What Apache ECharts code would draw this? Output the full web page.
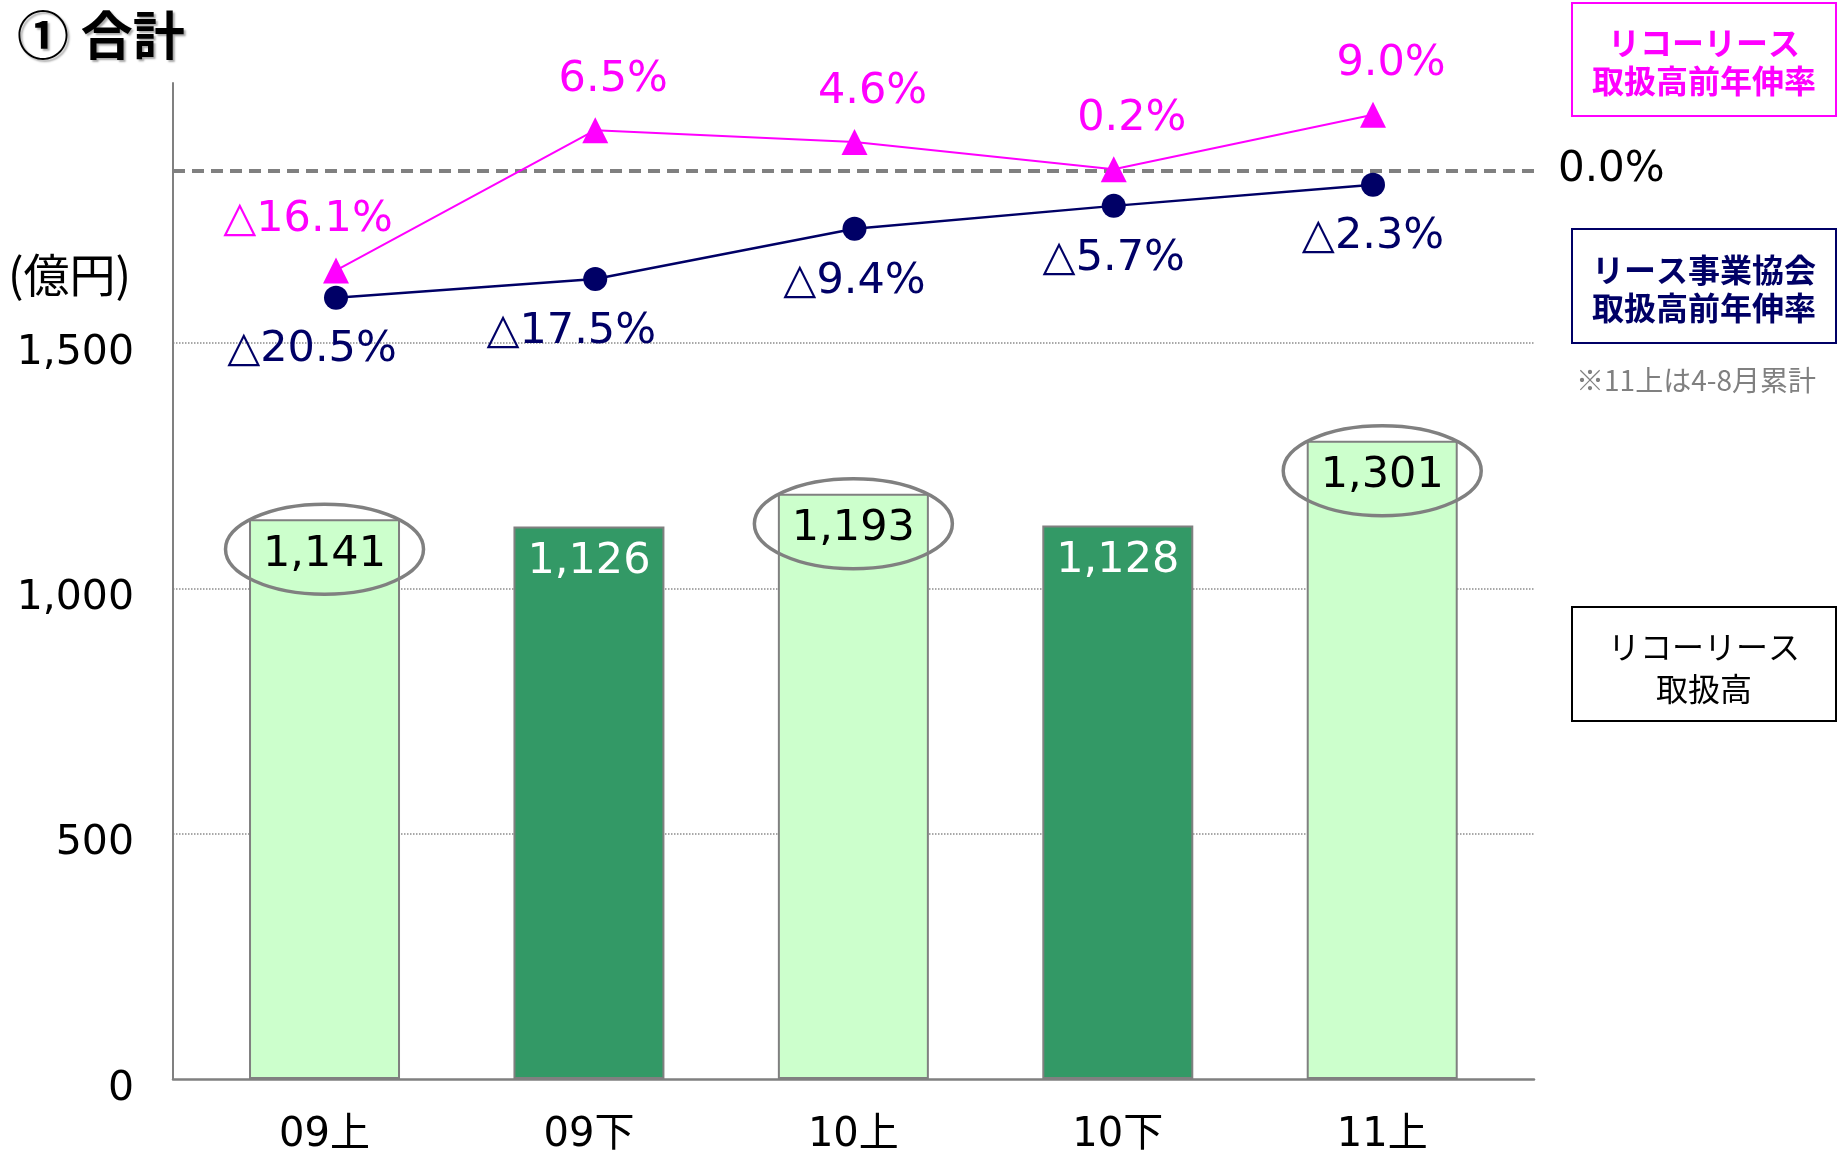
<!DOCTYPE html>
<html>
<head>
<meta charset="utf-8">
<script src="https://cdn.jsdelivr.net/npm/echarts@6/dist/echarts.min.js"></script>
<style>
  html, body { margin: 0; padding: 0; background: #fff; }
  #chart { width: 1837px; height: 1156px; }
</style>
</head>
<body>
<div id="chart"></div>
<script>
const categories = ['09上', '09下', '10上', '10下', '11上'];
const ricohLease = [1141, 1126, 1193, 1128, 1301];
const ricohGrowth = [-16.1, 6.5, 4.6, 0.2, 9.0];
const industryGrowth = [-20.5, -17.5, -9.4, -5.7, -2.3];
const circled = ['09上', '10上', '11上'];

const NUM_FONT = 'DejaVu Sans, Noto Sans CJK JP';
const JP_FONT = 'Noto Sans CJK JP';
const PINK = '#ff00ff';
const NAVY = '#000066';

const fmtNum = v => v.toLocaleString('en-US');
const fmtPct = v => (v < 0 ? '△' + Math.abs(v).toFixed(1) : v.toFixed(1)) + '%';
const isLower = c => c.indexOf('下') >= 0;

const chart = echarts.init(document.getElementById('chart'));

// bars
const barData = ricohLease.map((v, i) => ({
  value: [i, v],
  itemStyle: { color: isLower(categories[i]) ? '#339966' : '#ccffcc' },
  label: { color: isLower(categories[i]) ? '#ffffff' : '#000000' }
}));

// ellipses around highlighted bars
const ringData = [];
categories.forEach((c, i) => {
  if (circled.indexOf(c) >= 0) ringData.push([i, ricohLease[i]]);
});

const pinkData = ricohGrowth.map((v, i) => {
  const item = { value: [i, v] };
  if (i === 0) item.label = { offset: [-28, 0] };
  return item;
});
const navyData = industryGrowth.map((v, i) => {
  const item = { value: [i, v] };
  if (i < 2) item.label = { offset: [-24, 0] };
  return item;
});

const option = {
  animation: false,
  title: {
    text: '① 合計',
    left: 12,
    top: 4,
    textStyle: {
      fontFamily: JP_FONT,
      fontSize: 52,
      fontWeight: 'bold',
      color: '#000',
      textShadowColor: 'rgba(0,0,0,0.35)',
      textShadowBlur: 2,
      textShadowOffsetX: 2,
      textShadowOffsetY: 2
    }
  },
  grid: { left: 173, top: 83, width: 1361, height: 998 },
  xAxis: [
    {
      type: 'value',
      min: -0.573,
      max: 4.574,
      minInterval: 1,
      maxInterval: 1,
      axisLine: { show: true, onZero: false, lineStyle: { color: '#808080', width: 2.5 } },
      axisTick: { show: false },
      splitLine: { show: false },
      axisLabel: {
        margin: 37,
        fontFamily: NUM_FONT,
        fontSize: 40,
        color: '#000',
        showMinLabel: false,
        showMaxLabel: false,
        formatter: v => (Number.isInteger(v) && categories[v] !== undefined ? categories[v] : '')
      }
    },
    {
      type: 'value',
      min: -0.6287,
      max: 4.621,
      show: false
    }
  ],
  yAxis: [
    {
      type: 'value',
      min: 0,
      max: 2030,
      interval: 500,
      axisLine: { show: true, onZero: false, lineStyle: { color: '#808080', width: 2 } },
      axisTick: { show: false },
      axisLabel: {
        margin: 39,
        fontFamily: NUM_FONT,
        fontSize: 41,
        color: '#000',
        verticalAlign: 'top',
        lineHeight: 20,
        formatter: v => (v > 1500 ? '' : fmtNum(v))
      },
      splitLine: {
        show: true,
        lineStyle: {
          type: 'dotted',
          width: 1.5,
          color: ['transparent', '#8c8c8c', '#8c8c8c', '#8c8c8c', 'transparent', 'transparent']
        }
      }
    },
    {
      type: 'value',
      min: -146.4,
      max: 14.1,
      show: false,
      splitLine: { show: false }
    }
  ],
  series: [
    {
      type: 'bar',
      xAxisIndex: 0,
      yAxisIndex: 0,
      barWidth: 151,
      data: barData,
      itemStyle: { borderColor: '#808080', borderWidth: 2 },
      label: {
        show: true,
        position: 'insideTop',
        distance: 14,
        fontFamily: NUM_FONT,
        fontSize: 43,
        formatter: p => fmtNum(p.value[1])
      },
      silent: true
    },
    {
      type: 'custom',
      xAxisIndex: 0,
      yAxisIndex: 0,
      data: ringData,
      silent: true,
      z: 5,
      renderItem: (params, api) => {
        const p = api.coord([api.value(0), api.value(1)]);
        return {
          type: 'ellipse',
          shape: { cx: p[0], cy: p[1] + 30, rx: 99, ry: 45 },
          style: { fill: 'none', stroke: '#808080', lineWidth: 3.5 }
        };
      }
    },
    {
      type: 'line',
      name: 'リース事業協会取扱高前年伸率',
      xAxisIndex: 1,
      yAxisIndex: 1,
      data: navyData,
      symbol: 'circle',
      symbolSize: 24,
      itemStyle: { color: NAVY },
      lineStyle: { color: NAVY, width: 2.5 },
      z: 6,
      label: {
        show: true,
        position: 'bottom',
        distance: 19,
        color: NAVY,
        fontFamily: NUM_FONT,
        fontSize: 43,
        formatter: p => fmtPct(p.value[1])
      },
      silent: true
    },
    {
      type: 'line',
      name: 'リコーリース取扱高前年伸率',
      xAxisIndex: 1,
      yAxisIndex: 1,
      data: pinkData,
      symbol: 'triangle',
      symbolSize: 26,
      itemStyle: { color: PINK },
      lineStyle: { color: PINK, width: 2 },
      z: 7,
      label: {
        show: true,
        position: 'top',
        distance: 16,
        offset: [18, 0],
        color: PINK,
        fontFamily: NUM_FONT,
        fontSize: 43,
        formatter: p => fmtPct(p.value[1])
      },
      markLine: {
        silent: true,
        symbol: ['none', 'none'],
        z: 3,
        lineStyle: { color: '#808080', width: 4, type: [12, 7] },
        label: {
          show: true,
          position: 'end',
          distance: 24,
          formatter: '0.0%',
          color: '#000',
          fontFamily: NUM_FONT,
          fontSize: 42
        },
        data: [{ yAxis: 0 }]
      },
      silent: true
    }
  ],
  graphic: [
    {
      type: 'text',
      left: 8,
      top: 252,
      style: { text: '(億円)', fontFamily: JP_FONT, fontSize: 46, fill: '#000' }
    },
    {
      type: 'rect',
      shape: { x: 1572, y: 3, width: 264, height: 113 },
      style: { fill: '#fff', stroke: PINK, lineWidth: 2 }
    },
    {
      type: 'text',
      x: 1704,
      y: 62,
      style: {
        text: 'リコーリース\n取扱高前年伸率',
        align: 'center', verticalAlign: 'middle',
        fontFamily: JP_FONT, fontSize: 32, fontWeight: 'bold', lineHeight: 38, fill: PINK
      }
    },
    {
      type: 'rect',
      shape: { x: 1572, y: 229, width: 264, height: 114 },
      style: { fill: '#fff', stroke: NAVY, lineWidth: 2 }
    },
    {
      type: 'text',
      x: 1704,
      y: 289,
      style: {
        text: 'リース事業協会\n取扱高前年伸率',
        align: 'center', verticalAlign: 'middle',
        fontFamily: JP_FONT, fontSize: 32, fontWeight: 'bold', lineHeight: 38, fill: NAVY
      }
    },
    {
      type: 'text',
      x: 1696,
      y: 380,
      style: {
        text: '※11上は4-8月累計',
        align: 'center', verticalAlign: 'middle',
        fontFamily: JP_FONT, fontSize: 28, fill: '#808080'
      }
    },
    {
      type: 'rect',
      shape: { x: 1572, y: 607, width: 264, height: 114 },
      style: { fill: '#fff', stroke: '#000', lineWidth: 2 }
    },
    {
      type: 'text',
      x: 1704,
      y: 668,
      style: {
        text: 'リコーリース\n取扱高',
        align: 'center', verticalAlign: 'middle',
        fontFamily: JP_FONT, fontSize: 32, lineHeight: 42, fill: '#000'
      }
    }
  ]
};

chart.setOption(option);
</script>
</body>
</html>
